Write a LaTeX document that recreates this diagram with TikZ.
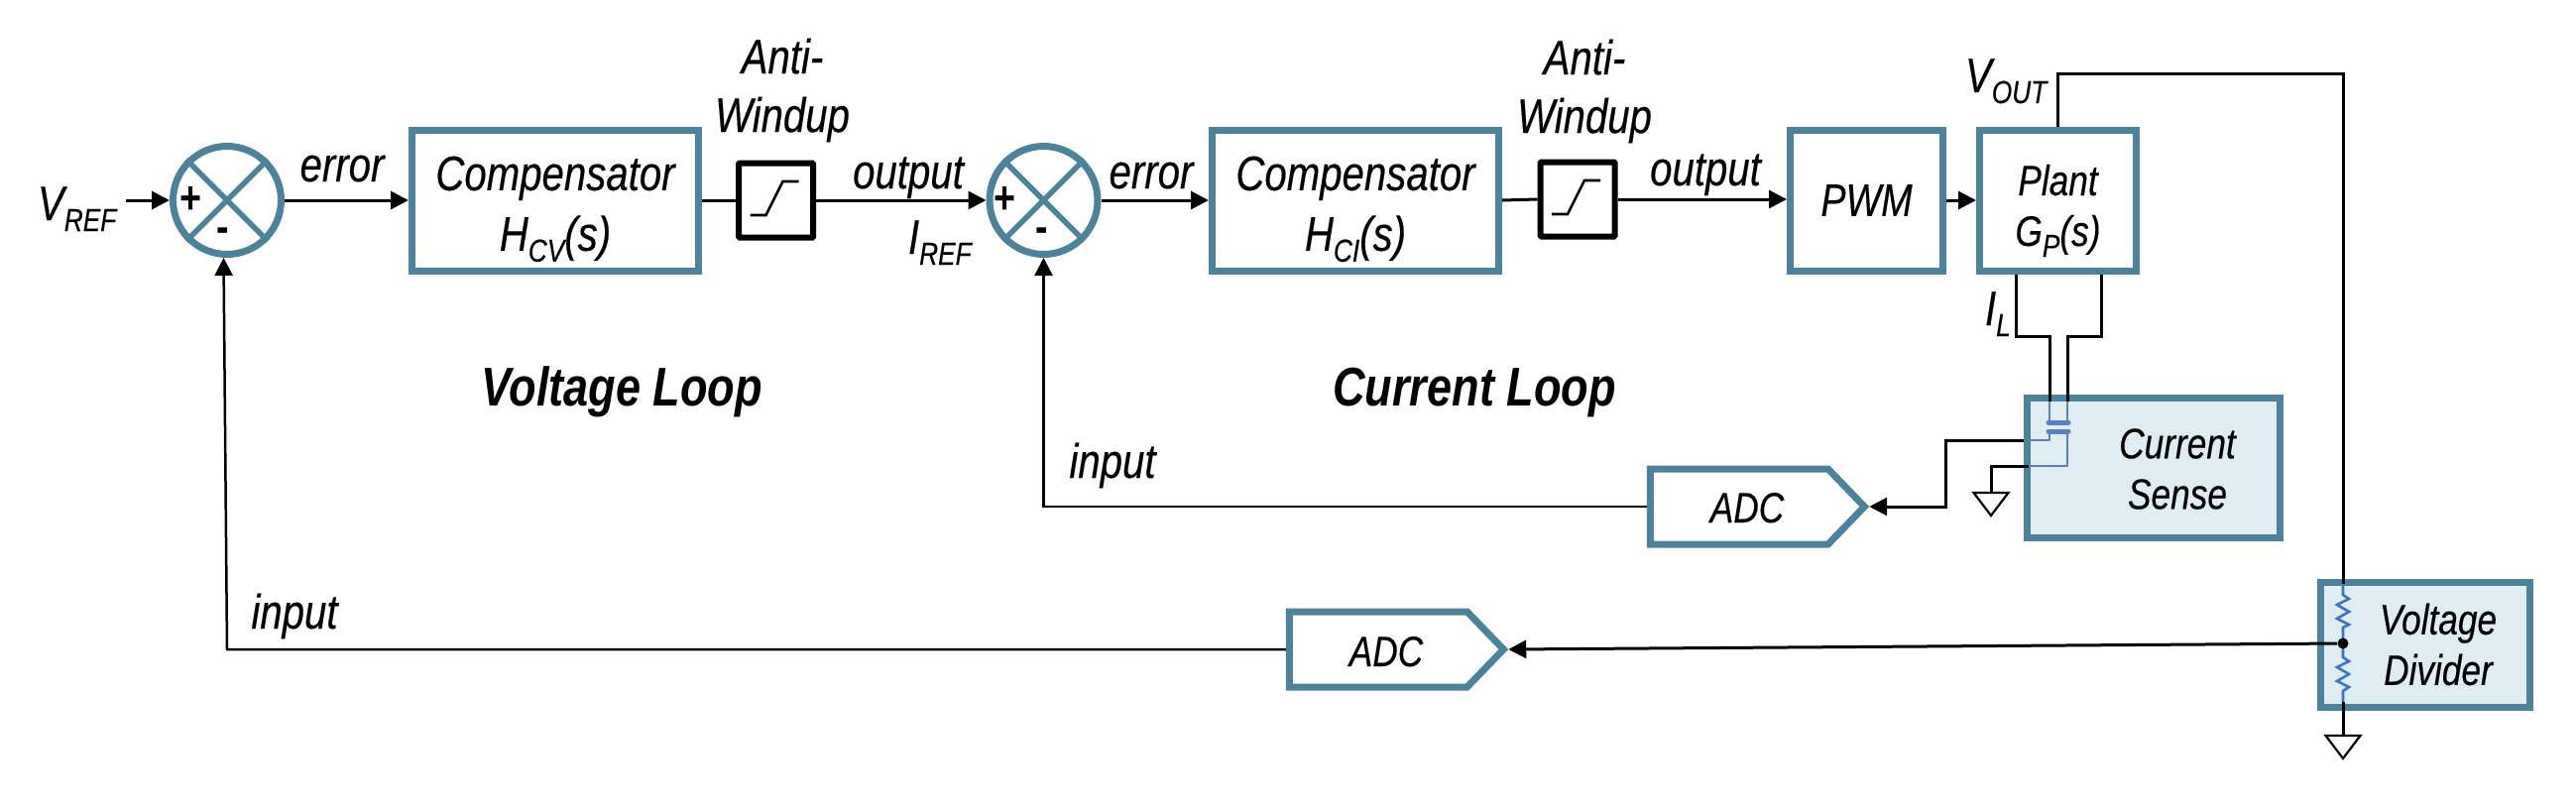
\documentclass[tikz,border=0pt]{standalone}
\usepackage{fontspec}
\setmainfont[FakeStretch=0.82,ItalicFeatures={FakeBold=0.3}]{Liberation Sans}
\usetikzlibrary{arrows.meta,shapes.symbols}
\definecolor{teal}{HTML}{4C829A}
\definecolor{pale}{HTML}{DFEDF3}
\definecolor{capblue}{HTML}{5B80BF}
\definecolor{resblue}{HTML}{3A74C4}
\newcommand{\fsz}[1]{\fontsize{#1}{#1}\selectfont}
\newcommand{\sbs}[1]{\raisebox{-5.5pt}{\fsz{16}#1}}
\newcommand{\topfill}{\rule{0pt}{26pt}}
\newcommand{\stepglyph}[1]{\draw[glyph,shift={(#1.center)}] (-26,15) -- (-10,15) -- (7,-19) -- (23,-19);}
\newcommand{\gndtri}[1]{\draw[gnd,shift={(#1)}] (-17.5,0) -- (17.5,0) -- (0,23) -- cycle;}
\tikzset{
  x=0.5pt,y=-0.5pt,
  lbl/.style={inner sep=0,outer sep=0,font=\fsz{24.5}\itshape,anchor=base},
  lbl2/.style={inner sep=0,outer sep=0,font=\fsz{24.5}\itshape,align=center,execute at begin node=\setlength{\baselineskip}{29.5pt}},
  small2/.style={inner sep=0,outer sep=0,font=\fsz{21.5}\itshape,align=center,execute at begin node=\setlength{\baselineskip}{25.5pt}},
  loop/.style={inner sep=0,outer sep=0,font=\fsz{27.5}\bfseries\itshape,anchor=base},
  sign/.style={inner sep=0,outer sep=0,font=\fsz{23}\bfseries},
  block/.style={draw=teal,line width=3.5pt,rectangle,inner sep=0,minimum height=71pt,align=center,font=\fsz{24.5}\itshape,execute at begin node=\setlength{\baselineskip}{30.5pt}},
  paleblock/.style={draw=teal,fill=pale,line width=3.5pt,rectangle,inner sep=0},
  sumj/.style={draw=teal,line width=3.5pt,circle,inner sep=0,minimum size=54.5pt},
  xline/.style={draw=teal,line width=2.8pt},
  limiter/.style={draw=black,line width=3pt,rectangle,inner sep=0,minimum width=37.5pt,minimum height=37.5pt,rounded corners=0.5pt},
  glyph/.style={draw=black,line width=1.3pt},
  adcblock/.style={draw=teal,line width=3.5pt,signal,signal to=east,signal from=nowhere,signal pointer angle=92,inner sep=0,minimum width=108pt,minimum height=38pt},
  wire/.style={draw=black,line width=1.5pt},
  thin wire/.style={draw=black,line width=1.25pt},
  arrow/.style={wire,-{Triangle[length=9pt,width=9pt]}},
  thin arrow/.style={thin wire,-{Triangle[length=9pt,width=9pt]}},
  gnd/.style={draw=black,line width=1.1pt,line join=miter},
  bluewire/.style={draw=capblue,line width=1.3pt},
  plate/.style={draw=capblue,line width=2.5pt,line cap=round},
  res/.style={draw=resblue,line width=1.3pt},
}
\begin{document}
\begin{tikzpicture}
\useasboundingbox (0,0) rectangle (2598,814);
% main row blocks
\node[sumj] (s1) at (229,202) {};
\node[sumj] (s2) at (1052.5,202) {};
\draw[xline] (s1.north west) -- (s1.south east);
\draw[xline] (s1.north east) -- (s1.south west);
\draw[xline] (s2.north west) -- (s2.south east);
\draw[xline] (s2.north east) -- (s2.south west);
\node[sign] (p1) at (193,202) {+};
\node[sign] (m1) at (225,237) {-};
\node[sign] (p2) at (1014,202) {+};
\node[sign] (m2) at (1051,237) {-};
\node[block,minimum width=144.5pt] (c1) at (560,202) {\topfill Compensator\\H\sbs{CV}(s)};
\node[block,minimum width=144.5pt] (c2) at (1367,202) {\topfill Compensator\\H\sbs{CI}(s)};
\node[limiter] (a1) at (782.5,202) {};
\node[limiter] (a2) at (1591,201) {};
\stepglyph{a1}
\stepglyph{a2}
\node[block,minimum width=77pt,font=\fsz{23}\itshape] (pwm) at (1882.5,202) {PWM};
\node[block,minimum width=79pt,font=\fsz{21.5}\itshape,execute at begin node=\setlength{\baselineskip}{25.5pt}] (plant) at (2075.5,202) {\topfill Plant\\G\sbs{P}(s)};
% sensing blocks
\node[paleblock,minimum width=127.5pt,minimum height=70.5pt] (cs) at (2172,472) {};
\node[paleblock,minimum width=105.5pt,minimum height=63pt] (vd) at (2446,650.5) {};
\node[small2] (cst) at (2196,473) {Current\\Sense};
\node[small2] (vdt) at (2459,650) {Voltage\\Divider};
\node[adcblock] (adc1) at (1754,511) {};
\node[adcblock] (adc2) at (1390,655) {};
\node[inner sep=0,outer sep=0,font=\fsz{21.5}\itshape,anchor=base] (adc1t) at (1762,527) {ADC};
\node[inner sep=0,outer sep=0,font=\fsz{21.5}\itshape,anchor=base] (adc2t) at (1398,672) {ADC};
% labels
\node[lbl,anchor=base west] (vref) at (38,222) {V\sbs{REF}};
\node[lbl] (e1) at (345,183) {error};
\node[lbl2] (aw1) at (789,91) {Anti-\\Windup};
\node[lbl] (o1) at (916,190) {output};
\node[lbl,anchor=base west] (iref) at (916,256) {I\sbs{REF}};
\node[lbl] (e2) at (1161,190) {error};
\node[lbl2] (aw2) at (1598,92) {Anti-\\Windup};
\node[lbl] (o2) at (1720,187) {output};
\node[lbl,anchor=base west] (vout) at (1982,93) {V\sbs{OUT}};
\node[lbl,anchor=base west] (il) at (2002,328) {I\sbs{L}};
\node[lbl] (in2) at (1122,482) {input};
\node[lbl] (in1) at (297,634) {input};
\node[loop] (vl) at (627,409) {Voltage Loop};
\node[loop] (cl) at (1487,409) {Current Loop};
% forward connectors
\coordinate (vrefout) at (127,202);
\draw[arrow] (vrefout) -- (s1.west);
\draw[arrow] (s1.east) -- (c1.west);
\draw[wire] (c1.east) -- (a1.west);
\draw[arrow] (a1.east) -- (s2.west);
\draw[arrow] (s2.east) -- (c2.west);
\draw[wire] (c2.east) -- (a2.west);
\draw[arrow] (a2.east) -- (a2.east -| pwm.west);
\draw[arrow] (pwm.east) -- (plant.west);
% VOUT to divider
\coordinate (vtop) at (2363,74);
\coordinate (vdin) at (2363,589);
\coordinate (vdout) at (2363,708);
\coordinate (vdgnd) at (2363,742);
\draw[wire] (plant.north) -- (plant.north |- vtop) -- (vtop) -- (vdin);
% divider internals
\draw[res] (vdin) -- (2363,600) -- (2369,604) -- (2357,610) -- (2369,617) -- (2357,624) -- (2369,630) -- (2363,633) -- (2363,649) -- (2363,663) -- (2369,667) -- (2357,673) -- (2369,680) -- (2357,687) -- (2369,693) -- (2363,697) -- (vdout);
\draw[wire] (vdout) -- (vdgnd);
\gndtri{vdgnd}
\node[circle,fill=black,inner sep=0,minimum size=5.5pt] (tap) at (2363,649) {};
\draw[arrow] (tap) -- (adc2.east);
\draw[thin arrow] (adc2.west) -- (adc2.west -| s1.south) -- ([xshift=-1.75pt]s1.south);
% plant to current sense
\coordinate (lbot) at (2033,339);
\coordinate (rbot) at (2119,339);
\coordinate (lin) at (2067,405);
\coordinate (rin) at (2085,405);
\draw[wire] (lbot |- plant.south) -- (lbot) -- (lbot -| lin) -- (lin);
\draw[wire] (rbot |- plant.south) -- (rbot) -- (rbot -| rin) -- (rin);
% current sense internals
\coordinate (plA) at (2067,426);
\coordinate (plB) at (2085,426);
\coordinate (plC) at (2067,435);
\coordinate (plD) at (2085,435);
\coordinate (blueL) at (2047,444);
\coordinate (blueR) at (2046,470);
\draw[bluewire] (lin) -- (plA);
\draw[bluewire] (rin) -- (plB);
\draw[plate] (2066,426) -- (2086,426);
\draw[plate] (2066,435) -- (2086,435);
\draw[bluewire] (plC) -- (plC |- blueL) -- (blueL);
\draw[bluewire] (plD) -- (plD |- blueR) -- (blueR);
\coordinate (senseknee) at (1962,444);
\coordinate (gndc) at (2008,497);
\draw[arrow] (cs.west |- blueL) -- (senseknee) -- (senseknee |- adc1.east) -- (adc1.east);
\draw[wire] (blueR) -- (gndc |- blueR) -- (gndc);
\gndtri{gndc}
\draw[thin arrow] (adc1.west) -- (adc1.west -| s2.south) -- (s2.south);
\end{tikzpicture}
\end{document}
